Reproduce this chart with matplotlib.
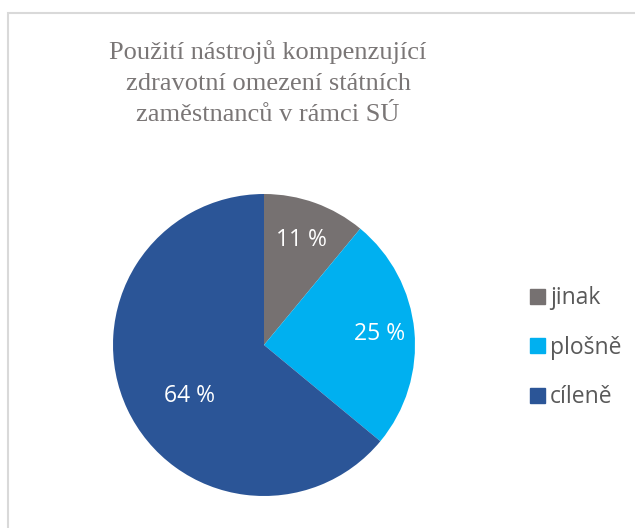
import numpy as np
import matplotlib
matplotlib.use('Agg')
import matplotlib.pyplot as plt
from matplotlib.lines import Line2D
from matplotlib.patches import Rectangle

# Chart data
categories = ['jinak', 'plošně', 'cíleně']
shares = [11, 25, 64]
colors = ['#767171', '#00B0F0', '#2B5597']
title = 'Použití nástrojů kompenzující\nzdravotní omezení státních\nzaměstnanců v rámci SÚ'

W, H = 635, 528
fig = plt.figure(figsize=(W / 100, H / 100), dpi=100)

# light frame around the chart area (cut off at right/bottom)
fig.patches.append(Rectangle((8 / W, -0.05), 1.2, 1 - 13 / H + 0.05, transform=fig.transFigure,
                             fill=False, edgecolor='#D9D9D9', linewidth=1.5))

# pie axes: centre (264, 345), radius 151 px
cx, cy, r = 264, 345, 151
ax = fig.add_axes([(cx - r) / W, (H - cy - r) / H, 2 * r / W, 2 * r / H])
wedges, _ = ax.pie(shares, colors=colors, startangle=90, counterclock=False, radius=1,
                   wedgeprops=dict(linewidth=0))
ax.set_xlim(-1, 1)
ax.set_ylim(-1, 1)
ax.set_aspect('equal')
ax.axis('off')

# data labels
label_r = [0.74, 0.77, 0.6]
label_ang_shift = [0, 0, 9]
for w, v, lr, sh in zip(wedges, shares, label_r, label_ang_shift):
    ang = np.deg2rad((w.theta1 + w.theta2) / 2 + sh)
    ax.text(lr * np.cos(ang), lr * np.sin(ang), f'{v} %', color='white', fontsize=16.5,
            family='Open Sans', ha='center', va='center')

# title
fig.text(268 / W, 1 - 83 / H, title, ha='center', va='center', fontsize=19,
         family='Liberation Serif', color='#7A7676', linespacing=1.55)

# legend
handles = [Line2D([], [], marker='s', linestyle='none', markersize=10.8, markerfacecolor=c,
                  markeredgecolor=c) for c in colors]
leg = fig.legend(handles, categories, loc='center left', bbox_to_anchor=(526 / W, 1 - 347.5 / H),
                 frameon=False, handletextpad=0.05, labelspacing=1.1, handlelength=1.0,
                 borderpad=0, borderaxespad=0,
                 prop={'family': 'Open Sans', 'size': 16.5})
for t in leg.get_texts():
    t.set_color('#595959')

fig.savefig('out.png', dpi=100)
